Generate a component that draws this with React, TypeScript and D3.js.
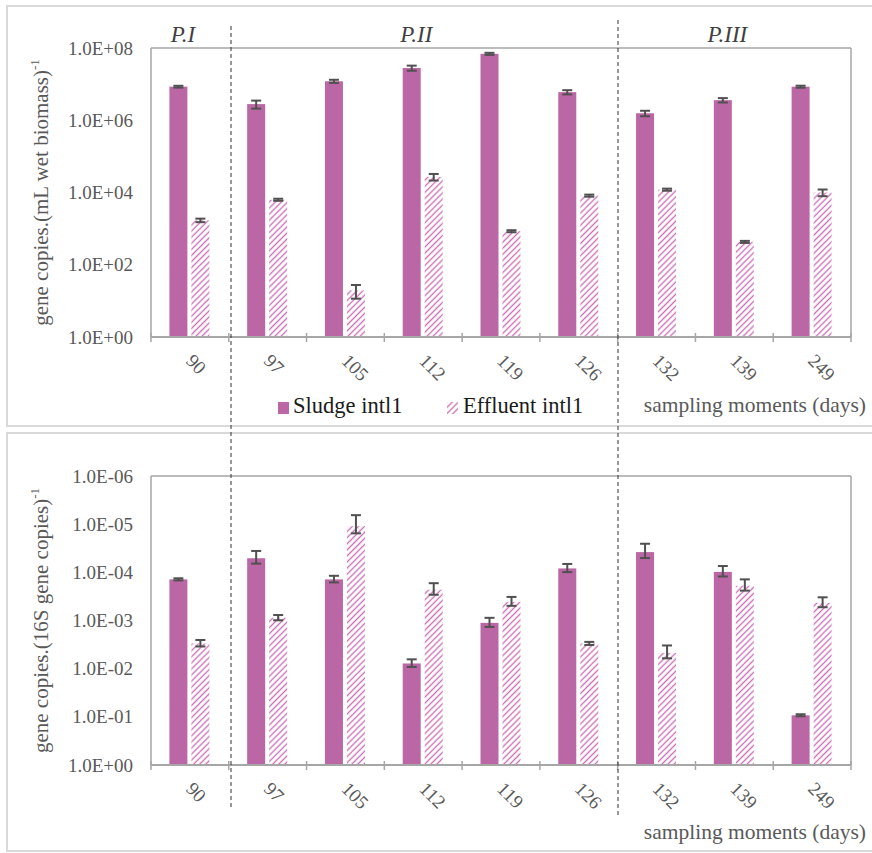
import React from "react";
import * as d3 from "d3";

const categories = ["90", "97", "105", "112", "119", "126", "132", "139", "249"];
const periods = ["P.I", "P.II", "P.III"];
const periodSpans = [[0, 1], [1, 6], [6, 9]];

const sludgeTop = [8.5e6, 2.8e6, 1.2e7, 2.8e7, 6.9e7, 6.0e6, 1.56e6, 3.6e6, 8.5e6];
const sludgeTopErr = [0.5e6, 0.7e6, 1.2e6, 4.5e6, 4.5e6, 0.8e6, 0.27e6, 0.5e6, 0.55e6];
const effluentTop = [1.7e3, 6.3e3, 19.5, 2.7e4, 850, 8.2e3, 1.2e4, 430, 1.0e4];
const effluentTopErr = [190, 420, 8, 5.6e3, 55, 540, 800, 28, 2.1e3];

const sludgeBottom = [1.4e-4, 5.1e-5, 1.4e-4, 7.8e-3, 1.12e-3, 8.3e-5, 3.8e-5, 9.8e-5, 0.093];
const sludgeBottomErr = [7e-6, 1.5e-5, 2.2e-5, 1.4e-3, 2.4e-4, 1.6e-5, 1.25e-5, 2.4e-5, 4.5e-3];
const effluentBottom = [3.0e-3, 8.8e-4, 1.1e-5, 2.3e-4, 4.1e-4, 3.0e-3, 4.7e-3, 1.9e-4, 4.3e-4];
const effluentBottomErr = [4.6e-4, 1.1e-4, 4.5e-6, 6.2e-5, 8.6e-5, 2.2e-4, 1.4e-3, 5e-5, 1.0e-4];

const topTicks = [1, 1e2, 1e4, 1e6, 1e8];
const bottomTicks = [1, 1e-1, 1e-2, 1e-3, 1e-4, 1e-5, 1e-6];

const seriesNames = ["Sludge intl1", "Effluent intl1"];
const xTitle = "sampling moments (days)";
const topYTitle = "gene copies.(mL  wet biomass)";
const bottomYTitle = "gene copies.(16S gene copies)";

const SLUDGE = "#bc67a5";
const HATCH = "#c96cb4";
const AXIS = "#a6a6a6";
const TXT = "#595959";
const ERR = "#505050";
const FONT = "Liberation Serif, Times New Roman, DejaVu Serif, serif";

const fmtExp = (v: number) => {
  const e = Math.round(Math.log10(v));
  const sign = e < 0 ? "-" : "+";
  const a = Math.abs(e);
  return `1.0E${sign}${a < 10 ? "0" + a : a}`;
};

const X0 = 151;
const X1 = 851;

function Panel({
  y0,
  y1,
  domain,
  ticks,
  sludge,
  sludgeErr,
  eff,
  effErr,
  yTitle,
  showLegend,
  titleY,
  xTitleY,
}: any) {
  const x = d3.scaleBand<string>().domain(categories).range([X0, X1]).padding(0);
  const y = d3.scaleLog().domain(domain).range([y1, y0]);
  const bw = 18;
  const base = y1;
  const errBar = (cx: number, v: number, e: number, key: string) => {
    const ya = y(v + e);
    const yb = y(Math.max(v - e, 1e-12));
    const top = Math.min(ya, yb);
    const bot = Math.max(ya, yb);
    return (
      <g key={key} stroke={ERR} strokeWidth={2}>
        <line x1={cx} x2={cx} y1={top} y2={bot} />
        <line x1={cx - 5} x2={cx + 5} y1={top} y2={top} />
        <line x1={cx - 5} x2={cx + 5} y1={bot} y2={bot} />
      </g>
    );
  };
  const boundaries = d3.range(categories.length + 1).map((i) => X0 + i * x.bandwidth());
  return (
    <g>
      <line x1={X0} x2={X1} y1={y0} y2={y0} stroke={AXIS} strokeWidth={1.5} />
      <line x1={X1} x2={X1} y1={y0} y2={y1} stroke={AXIS} strokeWidth={1.5} />
      <line x1={X0} x2={X0} y1={y0} y2={y1} stroke={AXIS} strokeWidth={1.5} />
      {categories.map((c, i) => {
        const cx = (x(c) as number) + x.bandwidth() / 2;
        const ys = y(sludge[i]);
        const ye = y(eff[i]);
        return (
          <g key={c}>
            <rect x={cx - 20.5} y={ys} width={bw} height={base - ys} fill={SLUDGE} />
            <rect x={cx + 1.5} y={ye} width={bw} height={base - ye} fill="url(#hatch)" />
            {errBar(cx - 11.5, sludge[i], sludgeErr[i], "s")}
            {errBar(cx + 10.5, eff[i], effErr[i], "e")}
          </g>
        );
      })}
      <line x1={X0} x2={X1} y1={y1} y2={y1} stroke={AXIS} strokeWidth={2} />
      {boundaries.map((b, i) => (
        <line key={i} x1={b} x2={b} y1={y1 - 4} y2={y1 + 5} stroke={AXIS} strokeWidth={1.5} />
      ))}
      {categories.map((c) => {
        const cx = (x(c) as number) + x.bandwidth() / 2;
        return (
          <text
            key={c}
            transform={`translate(${cx - 5},${y1 + 25}) rotate(45)`}
            style={{ fontFamily: FONT }}
            fontSize={19}
            fill={TXT}
          >
            {c}
          </text>
        );
      })}
      {ticks.map((t: number) => (
        <text
          key={t}
          x={133}
          y={y(t)}
          dy="0.35em"
          textAnchor="end"
          style={{ fontFamily: FONT }}
          fontSize={19}
          fill={TXT}
        >
          {fmtExp(t)}
        </text>
      ))}
      <text
        transform={`translate(48,${(y0 + y1) / 2}) rotate(-90)`}
        textAnchor="middle"
        style={{ fontFamily: FONT }}
        fontSize={21}
        fill={TXT}
      >
        {yTitle}
        <tspan fontSize={13} dy={-9}>-1</tspan>
      </text>
      <text x={866} y={xTitleY} textAnchor="end" style={{ fontFamily: FONT }} fontSize={21.5} fill={TXT}>
        {xTitle}
      </text>
      {titleY != null &&
        periods.map((p, i) => {
          const [a, b] = periodSpans[i];
          const mx = (boundaries[a] + boundaries[b]) / 2;
          return (
            <text
              key={p}
              x={mx - 7}
              y={titleY}
              textAnchor="middle"
              style={{ fontFamily: FONT }}
              fontStyle="italic"
              fontSize={23}
              fill="#404040"
            >
              {p}
            </text>
          );
        })}
      {showLegend && (
        <g style={{ fontFamily: FONT }} fontSize={22.5} fill="#1a1a1a">
          <rect x={278} y={402} width={11} height={12} fill={SLUDGE} />
          <text x={293} y={413}>{seriesNames[0]}</text>
          <rect x={447} y={402} width={11} height={12} fill="url(#hatch)" />
          <text x={463} y={413}>{seriesNames[1]}</text>
        </g>
      )}
    </g>
  );
}

export default function App() {
  return (
    <svg
      width={872}
      height={853}
      style={{ position: "absolute", left: 0, top: 0, background: "#fff", fontFamily: FONT }}
    >
      <defs>
        <pattern
          id="hatch"
          patternUnits="userSpaceOnUse"
          width={4.3}
          height={4.3}
          patternTransform="rotate(45)"
        >
          <rect width={4.3} height={4.3} fill="#fff" />
          <line x1={2.15} x2={2.15} y1={-1} y2={5.3} stroke={HATCH} strokeWidth={1.3} />
        </pattern>
      </defs>
      <rect x={0} y={0} width={872} height={853} fill="#fff" />
      <rect x={7} y={6} width={866} height={420} fill="none" stroke="#d9d9d9" strokeWidth={2} />
      <rect x={7} y={433} width={866} height={418} fill="none" stroke="#d9d9d9" strokeWidth={2} />
      <Panel
        y0={48}
        y1={337}
        domain={[1, 1e8]}
        ticks={topTicks}
        sludge={sludgeTop}
        sludgeErr={sludgeTopErr}
        eff={effluentTop}
        effErr={effluentTopErr}
        yTitle={topYTitle}
        showLegend={true}
        titleY={42}
        xTitleY={412}
      />
      <Panel
        y0={476}
        y1={765}
        domain={[1, 1e-6]}
        ticks={bottomTicks}
        sludge={sludgeBottom}
        sludgeErr={sludgeBottomErr}
        eff={effluentBottom}
        effErr={effluentBottomErr}
        yTitle={bottomYTitle}
        showLegend={false}
        titleY={null}
        xTitleY={839}
      />
      <line x1={231} x2={231} y1={26} y2={810} stroke="#333" strokeWidth={1} strokeDasharray="4,3" />
      <line x1={618} x2={618} y1={20} y2={817} stroke="#333" strokeWidth={1} strokeDasharray="4,3" />
    </svg>
  );
}
